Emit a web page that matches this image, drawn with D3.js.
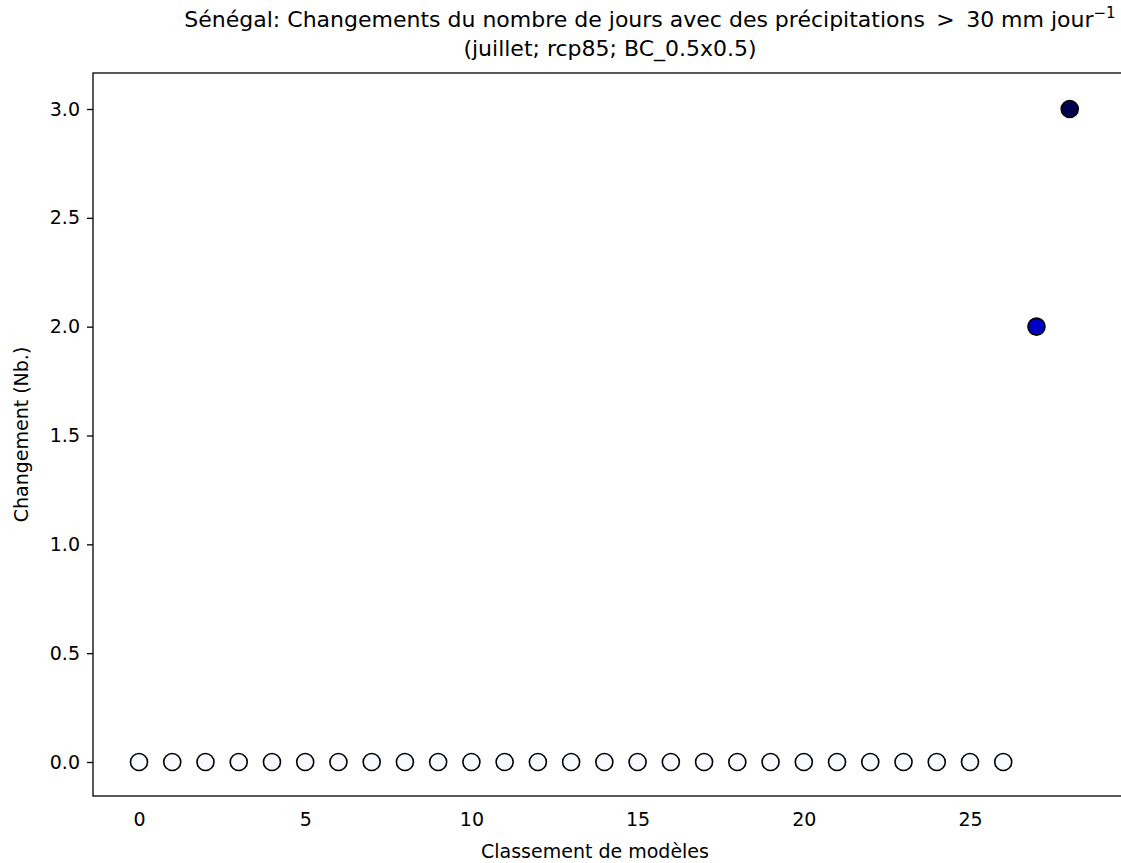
<!DOCTYPE html>
<html>
<head>
<meta charset="utf-8">
<script src="https://cdn.jsdelivr.net/npm/d3@7"></script>
<style>
  html, body { margin: 0; padding: 0; background: #ffffff; }
  svg { display: block; font-family: "DejaVu Sans", sans-serif; }
</style>
</head>
<body>
<svg id="chart" width="1121" height="863"></svg>
<script>
// Model ranking (x) and change in number of days with > 30 mm/day (y)
const ranks = d3.range(0, 29);
const changes = [0, 0, 0, 0, 0, 0, 0, 0, 0, 0, 0, 0, 0, 0, 0, 0, 0, 0, 0, 0, 0, 0, 0, 0, 0, 0, 0, 2, 3];
const xTicks = [0, 5, 10, 15, 20, 25];
const yTicks = [0.0, 0.5, 1.0, 1.5, 2.0, 2.5, 3.0];

const svg = d3.select("#chart");

// Plot area
const plotLeft = 93, plotTop = 73, plotBottom = 796;
const plotRight = 1140; // frame continues past the visible edge
const x = d3.scaleLinear().domain([0, 25]).range([139, 970]);
const y = d3.scaleLinear().domain([0, 3]).range([762, 109]);

const tickFont = 19;
const labelFont = 19;
const titleFont = 22;

// Diverging blue scale: zero is white, larger increases get darker blue
const color = d3.scaleLinear()
  .domain([0, 1.5, 3])
  .range(["#f8f8ff", "#0000ff", "#00004d"]);

const points = ranks.map((r, i) => ({ rank: r, value: changes[i] }));

// Y axis
const yAxis = svg.append("g")
  .attr("transform", `translate(${plotLeft},0)`)
  .call(d3.axisLeft(y).tickValues(yTicks).tickFormat(d3.format(".1f")).tickSize(6).tickPadding(7));
yAxis.select(".domain").remove();
yAxis.selectAll("line").attr("stroke", "#000").attr("stroke-width", 1.3);
yAxis.selectAll("text").attr("font-size", tickFont).attr("fill", "#000").attr("font-family", "DejaVu Sans");

// X axis (labels only, no tick marks)
const xAxis = svg.append("g")
  .attr("transform", `translate(0,${plotBottom})`)
  .call(d3.axisBottom(x).tickValues(xTicks).tickFormat(d3.format("d")).tickSize(0).tickPadding(17));
xAxis.select(".domain").remove();
xAxis.selectAll("text").attr("font-size", tickFont).attr("fill", "#000").attr("font-family", "DejaVu Sans");

// Frame
svg.append("rect")
  .attr("x", plotLeft).attr("y", plotTop)
  .attr("width", plotRight - plotLeft).attr("height", plotBottom - plotTop)
  .attr("fill", "none").attr("stroke", "#000").attr("stroke-width", 1.3);

// Points
svg.append("g").selectAll("circle")
  .data(points)
  .join("circle")
  .attr("cx", d => x(d.rank))
  .attr("cy", d => y(d.value))
  .attr("r", 8.5)
  .attr("fill", d => color(d.value))
  .attr("stroke", "#000")
  .attr("stroke-width", 1.6);

// Axis labels
svg.append("text")
  .attr("x", 595).attr("y", 858)
  .attr("text-anchor", "middle")
  .attr("font-size", labelFont)
  .text("Classement de modèles");

svg.append("text")
  .attr("transform", `translate(28,${(plotTop + plotBottom) / 2}) rotate(-90)`)
  .attr("text-anchor", "middle")
  .attr("font-size", labelFont)
  .text("Changement (Nb.)");

// Title
const t1 = svg.append("text")
  .attr("x", 650).attr("y", 27)
  .attr("text-anchor", "middle")
  .attr("font-size", titleFont)
  .style("white-space", "pre");
t1.append("tspan").text("Sénégal: Changements du nombre de jours avec des précipitations \u2009>\u2009 30 mm jour");
t1.append("tspan").attr("dy", -9).attr("font-size", 15).text("−1");

svg.append("text")
  .attr("x", 610).attr("y", 56)
  .attr("text-anchor", "middle")
  .attr("font-size", titleFont)
  .text("(juillet; rcp85; BC_0.5x0.5)");
</script>
</body>
</html>
